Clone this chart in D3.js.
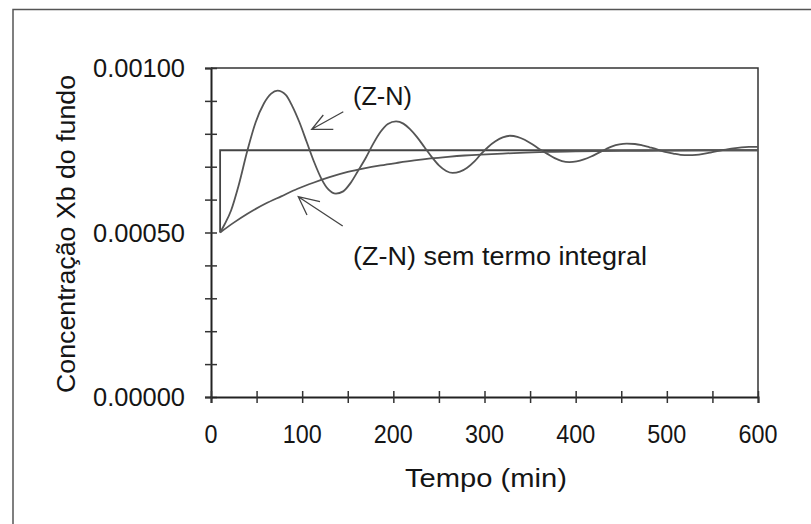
<!DOCTYPE html>
<html>
<head>
<meta charset="utf-8">
<script src="https://cdn.jsdelivr.net/npm/d3@7"></script>
<style>
  body { margin: 0; background: #fff; }
  svg { display: block; font-family: "Liberation Sans", Arial, sans-serif; }
</style>
</head>
<body>
<svg id="chart" width="811" height="524"></svg>
<script>
// time axis (min) and concentration values

const xTicks = [0, 100, 200, 300, 400, 500, 600];
const yTicks = [0, 0.0005, 0.001];

// set point: step at t = 10
const spT = [10, 10, 600];
const spY = [0.00050, 0.00075, 0.00075];

// Ziegler-Nichols (oscillating)
const znT = [10, 15, 22, 30, 40, 49, 58, 66, 73, 82, 89, 97, 105, 113, 121, 129, 137,
  145, 153, 161, 170, 178, 186, 194, 203, 211, 218, 226, 234, 242, 250, 258, 265,
  273, 281, 289, 296, 304, 312, 320, 328, 336, 344, 352, 360, 369, 377, 385, 393,
  401, 409, 417, 425, 433, 440, 448, 456, 465, 473, 481, 490, 498, 507, 515, 524,
  532, 540, 548, 557, 565, 573, 582, 590, 600];
const znY = [0.000500, 0.000525, 0.000567, 0.000640, 0.000750, 0.000835, 0.000892, 0.000922, 0.000931, 0.000918, 0.000885, 0.000835, 0.000775, 0.000715, 0.000664, 0.000630, 0.000618,
  0.000625, 0.000650, 0.000686, 0.000728, 0.000770, 0.000806, 0.000830, 0.000838, 0.000831, 0.000815, 0.000790, 0.000760, 0.000730, 0.000704, 0.000687, 0.000681,
  0.000685, 0.000697, 0.000716, 0.000738, 0.000760, 0.000777, 0.000789, 0.000794, 0.000791, 0.000782, 0.000769, 0.000754, 0.000739, 0.000726, 0.000717, 0.000714,
  0.000716, 0.000722, 0.000731, 0.000742, 0.000753, 0.000762, 0.000768, 0.000770, 0.000769, 0.000765, 0.000759, 0.000752, 0.000745, 0.000740, 0.000736, 0.000735,
  0.000736, 0.000739, 0.000743, 0.000748, 0.000752, 0.000756, 0.000759, 0.000760, 0.000760];

// Z-N without integral term (first order approach)
const piT = [10, 25, 40, 60, 77, 95, 113, 130, 150, 168, 186, 205, 223, 241, 260, 278, 296, 320, 345, 370, 400, 450, 500, 550, 600];
const piY = [0.000500, 0.000530, 0.000557, 0.000588, 0.000610, 0.000633, 0.000652, 0.000668, 0.000684, 0.000695, 0.000704, 0.000712, 0.000719, 0.000725, 0.000730, 0.000734, 0.000737, 0.000740, 0.000743, 0.000745, 0.000747, 0.000748, 0.000749, 0.000750, 0.000750];

const svg = d3.select('#chart');
const pLeft = 211, pRight = 758, pTop = 68, pBottom = 397;
const ink = '#151515';

const x = d3.scaleLinear().domain([0, 600]).range([pLeft, pRight]);
const y = d3.scaleLinear().domain([0, 0.001]).range([pBottom, pTop]);

// outer frame (only top and left are inside the picture)
svg.append('path')
  .attr('d', 'M13,524 L13,9.5 L811,9.5')
  .attr('fill', 'none').attr('stroke', '#555').attr('stroke-width', 1.5);

// plot box top/right
svg.append('path')
  .attr('d', `M${pLeft},${pTop} L${pRight},${pTop} L${pRight},${pBottom}`)
  .attr('fill', 'none').attr('stroke', '#333').attr('stroke-width', 1.5);

// axes with crossing ticks
const yAxis = svg.append('g').attr('transform', `translate(${pLeft},0)`)
  .call(d3.axisLeft(y).tickValues(d3.range(0, 11).map(i => i * 0.0001)).tickSize(6).tickFormat(''));
yAxis.selectAll('.tick line').attr('x2', -6).attr('x1', 6);
const xAxis = svg.append('g').attr('transform', `translate(0,${pBottom})`)
  .call(d3.axisBottom(x).tickValues(d3.range(0, 601, 50)).tickSize(6).tickFormat(''));
xAxis.selectAll('.tick line').attr('y1', -6).attr('y2', 6);
svg.selectAll('.domain').attr('stroke', '#222').attr('stroke-width', 2);
svg.selectAll('.tick line').attr('stroke', '#333').attr('stroke-width', 1.5);

// tick labels (the scanned font is tall and narrow, so squeeze glyphs)
svg.append('g').selectAll('text').data(yTicks).enter().append('text')
  .attr('x', 185).attr('y', d => y(d)).attr('dy', '0.36em')
  .attr('text-anchor', 'end').attr('font-size', 25).attr('fill', ink)
  .attr('textLength', 92).attr('lengthAdjust', 'spacingAndGlyphs')
  .text(d => d3.format('.5f')(d));

svg.append('g').selectAll('text').data(xTicks).enter().append('text')
  .attr('x', d => x(d)).attr('y', 443)
  .attr('text-anchor', 'middle').attr('font-size', 25).attr('fill', ink)
  .attr('textLength', d => String(d).length * 13).attr('lengthAdjust', 'spacingAndGlyphs')
  .text(d => d);

// axis titles
svg.append('text')
  .attr('x', 486).attr('y', 487).attr('text-anchor', 'middle')
  .attr('font-size', 25).attr('fill', ink)
  .attr('textLength', 162).attr('lengthAdjust', 'spacingAndGlyphs')
  .text('Tempo (min)');

svg.append('text')
  .attr('transform', 'translate(75,234) rotate(-90)').attr('text-anchor', 'middle')
  .attr('font-size', 25).attr('fill', ink)
  .attr('textLength', 318).attr('lengthAdjust', 'spacingAndGlyphs')
  .text('Concentração Xb do fundo');

// series
const line = d3.line().x(d => x(d[0])).y(d => y(d[1]));
const lineSmooth = d3.line().x(d => x(d[0])).y(d => y(d[1])).curve(d3.curveMonotoneX);

svg.append('path').datum(d3.zip(spT, spY))
  .attr('d', line).attr('fill', 'none').attr('stroke', '#444').attr('stroke-width', 1.8);
svg.append('path').datum(d3.zip(piT, piY))
  .attr('d', lineSmooth).attr('fill', 'none').attr('stroke', '#555').attr('stroke-width', 1.8);
svg.append('path').datum(d3.zip(znT, znY))
  .attr('d', lineSmooth).attr('fill', 'none').attr('stroke', '#555').attr('stroke-width', 1.8);

// annotations
svg.append('text').attr('x', 353).attr('y', 105)
  .attr('font-size', 25).attr('fill', ink)
  .attr('textLength', 59).attr('lengthAdjust', 'spacingAndGlyphs')
  .text('(Z-N)');
svg.append('text').attr('x', 353).attr('y', 265)
  .attr('font-size', 25).attr('fill', ink)
  .attr('textLength', 294).attr('lengthAdjust', 'spacingAndGlyphs')
  .text('(Z-N) sem termo integral');

const arrows = [
  { tip: [311.7, 129.3], tail: [343.3, 111.7], b1: [323.3, 115], b2: [333.3, 129.3] },
  { tip: [298.3, 196.7], tail: [342.7, 226], b1: [307, 215], b2: [320, 201.7] }
];
svg.append('g').selectAll('path').data(arrows).enter().append('path')
  .attr('d', a => `M${a.tail}L${a.tip}M${a.b1}L${a.tip}L${a.b2}`)
  .attr('fill', 'none').attr('stroke', '#444').attr('stroke-width', 1.3);
</script>
</body>
</html>
